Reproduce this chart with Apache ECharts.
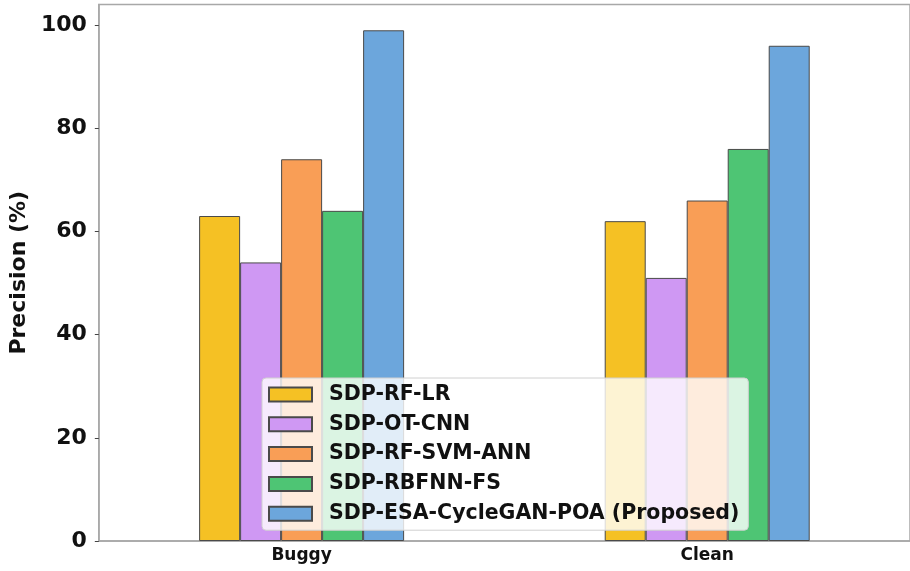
<!DOCTYPE html>
<html>
<head>
<meta charset="utf-8">
<script src="https://cdn.jsdelivr.net/npm/echarts@6/dist/echarts.min.js"></script>
<style>
  html, body { margin: 0; padding: 0; background: #fff; }
  #chart { width: 910px; height: 571px; }
</style>
</head>
<body>
<div id="chart"></div>
<script>
const categories = ["Buggy", "Clean"];
const methods = [
  "SDP-RF-LR",
  "SDP-OT-CNN",
  "SDP-RF-SVM-ANN",
  "SDP-RBFNN-FS",
  "SDP-ESA-CycleGAN-POA (Proposed)",
];
const rfLr = [63, 62];
const otCnn = [54, 51];
const rfSvmAnn = [74, 66];
const rbfnnFs = [64, 76];
const proposed = [99, 96];
const yTicks = [0, 20, 40, 60, 80, 100];

const colors = ["#f5c124", "#cf98f3", "#f99e56", "#4ec574", "#6ca6dc"];
const seriesValues = [rfLr, otCnn, rfSvmAnn, rbfnnFs, proposed];

const font = "DejaVu Sans";
const chart = echarts.init(document.getElementById("chart"));

chart.setOption({
  animation: false,
  grid: {
    left: 94,
    right: -4,
    top: 4.5,
    bottom: 30,
    show: true,
    borderColor: "#a8a8a8",
    borderWidth: 1.5,
  },
  legend: {
    orient: "vertical",
    left: 262,
    top: 378,
    padding: [6, 9, 6, 6],
    icon: "rect",
    itemWidth: 43,
    itemHeight: 14,
    itemGap: 8.8,
    backgroundColor: "rgba(255,255,255,0.8)",
    borderColor: "#d0d0d0",
    borderWidth: 1,
    borderRadius: 4,
    textStyle: {
      fontFamily: font,
      fontWeight: "bold",
      fontSize: 20.5,
      lineHeight: 20,
      color: "#111",
      padding: [0, 0, 0, 12],
    },
    data: methods,
  },
  xAxis: {
    type: "category",
    data: categories,
    axisLine: { lineStyle: { color: "#a8a8a8", width: 1.5 } },
    axisTick: { alignWithLabel: true, length: 4, lineStyle: { color: "#444" } },
    axisLabel: {
      fontFamily: font,
      fontWeight: "bold",
      fontSize: 17,
      color: "#111",
      margin: 6,
    },
  },
  yAxis: {
    type: "value",
    min: 0,
    max: 104,
    interval: 20,
    name: "Precision (%)",
    nameLocation: "middle",
    nameGap: 65,
    nameTextStyle: {
      fontFamily: font,
      fontWeight: "bold",
      fontSize: 22,
      color: "#111",
    },
    splitLine: { show: false },
    axisLine: { show: true, lineStyle: { color: "#a8a8a8", width: 1.5 } },
    axisTick: { show: true, length: 4, lineStyle: { color: "#444" }, customValues: yTicks },
    axisLabel: {
      fontFamily: font,
      fontWeight: "bold",
      fontSize: 22,
      color: "#111",
      margin: 12,
      customValues: yTicks,
    },
  },
  series: methods.map((name, i) => ({
    name,
    type: "bar",
    data: seriesValues[i],
    barWidth: 41,
    barGap: "0%",
    itemStyle: { color: colors[i], borderColor: "#4a4a4a", borderWidth: 1 },
  })),
});
</script>
</body>
</html>
